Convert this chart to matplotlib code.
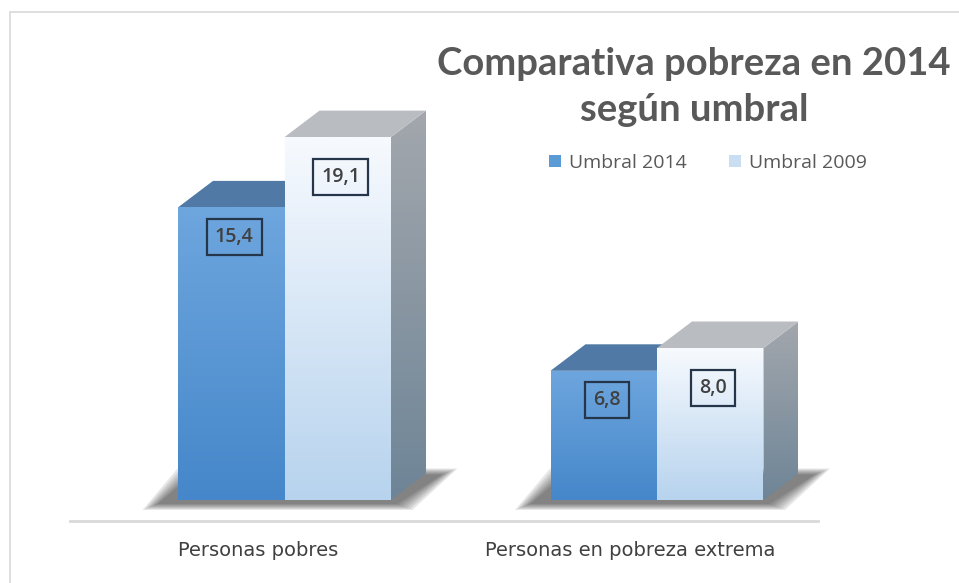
import matplotlib
matplotlib.use("Agg")
import matplotlib.pyplot as plt
import numpy as np
from matplotlib.colors import to_rgb
from matplotlib.patches import Polygon, Rectangle, Patch

categories = ["Personas pobres", "Personas en pobreza extrema"]
series_names = ["Umbral 2014", "Umbral 2009"]
umbral_2014 = [15.4, 6.8]
umbral_2009 = [19.1, 8.0]
title = "Comparativa pobreza en 2014\nsegún umbral"

W, H = 959, 583
BASE_PX, PX_PER_UNIT = 500, 19.0
GROUP_PX, CENTER0_PX = 372.5, 284.5

fig = plt.figure(figsize=(W / 100, H / 100), dpi=100)
ax = fig.add_axes([0, 0, 1, 1])
ax.set_axis_off()

BAR_W = 106.5 / GROUP_PX
DX = 35 / GROUP_PX
DY = 26.5 / PX_PER_UNIT
PXX = 1 / GROUP_PX
PXY = 1 / PX_PER_UNIT

styles = [
    dict(front=("#6ea6de", "#4587ca"), top="#5079a5", side=("#5a86b8", "#3d6fa5")),
    dict(front=("#f7fafe", "#b7d3ee"), top="#b9bcc1", side=("#a3a7ad", "#6e8597")),
]


def grad_fill(verts, c_top, c_bot, z):
    poly = Polygon(verts, closed=True, facecolor="none", edgecolor="none", zorder=z)
    ax.add_patch(poly)
    xs = [v[0] for v in verts]
    ys = [v[1] for v in verts]
    t = np.linspace(0, 1, 256)[:, None]
    a, b = np.array(to_rgb(c_bot)), np.array(to_rgb(c_top))
    arr = (a + (b - a) * t)[:, None, :]
    im = ax.imshow(arr, extent=(min(xs), max(xs), min(ys), max(ys)), origin="lower",
                   aspect="auto", interpolation="bilinear", zorder=z)
    im.set_clip_path(poly)


def shadow(x0, x1):
    # soft footprint shadow, shifted a little left and down
    for k in range(7):
        gx, gy = (7 - k) * 2.5 * PXX, (7 - k) * 1.0 * PXY
        verts = [(x0 - 18 * PXX - gx, -3 * PXY - gy), (x1 + 4 * PXX + gx, -3 * PXY - gy),
                 (x1 + DX + 14 * PXX + gx, DY - 2 * PXY + gy), (x0 + DX - 18 * PXX - gx, DY - 2 * PXY + gy)]
        ax.add_patch(Polygon(verts, closed=True, facecolor="#1a1a1a", edgecolor="none",
                             alpha=0.10, zorder=1))


def bar3d(x0, h, st, z):
    x1 = x0 + BAR_W
    grad_fill([(x1, 0), (x1 + DX, DY), (x1 + DX, h + DY), (x1, h)], st["side"][0], st["side"][1], z)
    ax.add_patch(Polygon([(x0, h), (x1, h), (x1 + DX, h + DY), (x0 + DX, h + DY)],
                         closed=True, facecolor=st["top"], edgecolor="none", zorder=z))
    grad_fill([(x0, 0), (x1, 0), (x1, h), (x0, h)], st["front"][0], st["front"][1], z + 0.5)


label_drop = [1.55, 2.1]
for i, (v14, v09) in enumerate(zip(umbral_2014, umbral_2009)):
    shadow(i - BAR_W, i + BAR_W)
    for j, v in enumerate([v14, v09]):
        x0 = i - BAR_W + j * BAR_W
        bar3d(x0, v, styles[j], 2 + j * 2)
        ax.text(x0 + BAR_W / 2 + 0.008, v - label_drop[j], f"{v:.1f}".replace(".", ","),
                ha="center", va="center", fontsize=14, fontweight="semibold", color="#404040",
                family="Open Sans", zorder=10,
                bbox=dict(boxstyle="square,pad=0.42", facecolor="none",
                          edgecolor="#26364a", linewidth=1.6))

# floor line and category labels
ax.plot([(70 - CENTER0_PX) / GROUP_PX, (818 - CENTER0_PX) / GROUP_PX], [-21 / PX_PER_UNIT] * 2,
        color="#d9d9d9", linewidth=2, zorder=1)
for i, cat in enumerate(categories):
    ax.text(i - 0.071, -51 / PX_PER_UNIT, cat, ha="center", va="center", fontsize=14,
            color="#404040", family=["Liberation Sans Narrow", "DejaVu Sans"])

ax.set_xlim(-CENTER0_PX / GROUP_PX, (W - CENTER0_PX) / GROUP_PX)
ax.set_ylim(-(H - BASE_PX) / PX_PER_UNIT, BASE_PX / PX_PER_UNIT)

# chart frame
fig.patches.append(Rectangle((10 / W, -0.1), 1.2, (H - 12) / H + 0.1, transform=fig.transFigure,
                             facecolor="none", edgecolor="#d9d9d9", linewidth=1.2))

fig.text(694 / W, 1 - 87 / H, title, ha="center", va="center", fontsize=27.5,
         fontweight="bold", color="#595959", family="Lato", linespacing=1.4)

handles = [Patch(facecolor="#5b9bd5", edgecolor="none"), Patch(facecolor="#c9def2", edgecolor="none")]
fig.legend(handles, series_names, loc="center", bbox_to_anchor=(708 / W, 1 - 163 / H), ncol=2,
           frameon=False, handlelength=0.6, handleheight=0.6, handletextpad=0.4,
           columnspacing=2.2, labelcolor="#595959", prop={"family": "Open Sans", "size": 14})

fig.savefig("out.png", dpi=100)
